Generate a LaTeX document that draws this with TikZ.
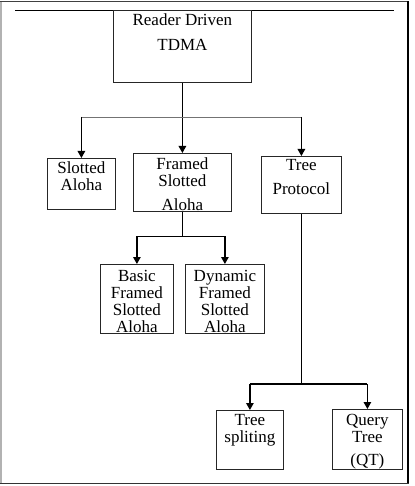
\documentclass[tikz,border=0pt]{standalone}
\usepackage{fontspec}
\setmainfont{Liberation Serif}
\usetikzlibrary{arrows.meta}
\begin{document}
\begin{tikzpicture}[x=1pt,y=-1pt,
  box/.style={draw=black!85, line width=0.8pt, inner sep=0pt, anchor=north west, align=center, font=\fontsize{17}{17}\selectfont},
  conn/.style={line width=0.9pt},
  arr/.style={line width=1.3pt, -{Triangle[length=7pt,width=7.5pt]}},
  bus/.style={line width=0.6pt, black!55}]
\useasboundingbox (0,0) rectangle (414,486);
\fill[white] (0,0) rectangle (414,486);
% frame
\draw[black!30, line width=1.2pt] (1,484) -- (1,1.5);
\draw[black!75, line width=1.2pt] (0,1.5) -- (408,1.5);
\draw[black, line width=1.2pt] (408,1) -- (408,483.5);
\draw[black!80, line width=1.2pt] (0,483.5) -- (408.6,483.5);
\draw[line width=0.8pt] (15,10) -- (394,10);
% boxes
\node[box, minimum width=138pt, text height=40.5pt, text depth=31.5pt] (tdma) at (113,10) {Reader Driven\\[8pt]TDMA};
\node[box, minimum width=68pt, text height=32pt, text depth=19pt] (slotted) at (47,158) {Slotted\\Aloha};
\node[box, minimum width=98pt, text height=57pt, text depth=1pt] (framed) at (133,153) {Framed\\Slotted\\[7pt]Aloha};
\node[box, minimum width=80pt, text height=38.3pt, text depth=18.7pt] (tree) at (261,156) {Tree\\[7pt]Protocol};
\node[box, minimum width=73pt, text height=67.7pt, text depth=1.3pt] (basic) at (100,264) {Basic\\Framed\\Slotted\\Aloha};
\node[box, minimum width=79pt, text height=67.7pt, text depth=1.3pt] (dynamic) at (185,264) {Dynamic\\Framed\\Slotted\\Aloha};
\node[box, minimum width=67pt, text height=32.3pt, text depth=26.7pt] (split) at (216,410) {Tree\\spliting};
\node[box, minimum width=70pt, text height=56pt, text depth=4pt] (qt) at (332,409) {Query\\Tree\\[6pt](QT)};
% connectors
\coordinate (b1) at (182,117);
\coordinate (b2) at (182,236);
\coordinate (b3) at (301,384);
\draw[conn] (tdma.south) -- (tdma.south |- b1);
\draw[arr] (tdma.south |- b1) -- (framed.north);
\draw[bus] (slotted.north |- b1) -- (tree.north |- b1);
\draw[arr] (slotted.north |- b1) -- (slotted.north);
\draw[arr] (tree.north |- b1) -- (tree.north);
\draw[conn] (framed.south) -- (framed.south |- b2);
\draw[conn] (basic.north |- b2) -- (dynamic.north |- b2);
\draw[arr] (basic.north |- b2) -- (basic.north);
\draw[arr] (dynamic.north |- b2) -- (dynamic.north);
\draw[conn, line width=1.2pt] (tree.south) -- (tree.south |- b3);
\draw[conn, line width=1.2pt] (split.north |- b3) -- (qt.north |- b3);
\draw[arr] (split.north |- b3) -- (split.north);
\draw[arr] (qt.north |- b3) -- (qt.north);
\end{tikzpicture}
\end{document}
